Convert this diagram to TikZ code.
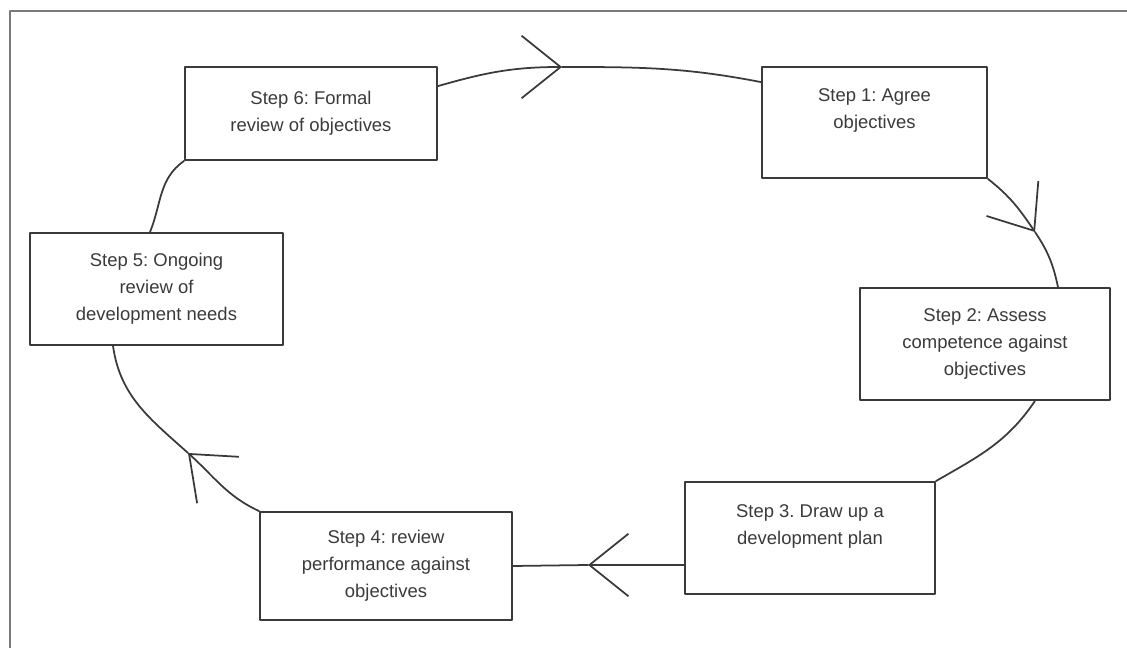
\documentclass[tikz,border=0pt]{standalone}
\usepackage{fontspec}
\setmainfont{Liberation Sans}
\usetikzlibrary{arrows.meta}
\definecolor{inkgray}{HTML}{3A3A3A}
\definecolor{framegray}{HTML}{7A7A7A}
\frenchspacing

\begin{document}
\begin{tikzpicture}[line cap=round,line join=round,>={Straight Barb[length=0.78cm,width=1.25cm]},scale=1,font=\fontsize{10.5}{15.4}\selectfont,
        stepbox/.style={draw=inkgray,line width=1pt,text=inkgray,align=center,inner sep=2pt},
        loopline/.style={draw=inkgray,line width=1pt}]
        \useasboundingbox (0,0) rectangle (22.54,12.96);
        \draw[framegray,line width=1pt] (0.2,0) -- (0.2,12.74) -- (22.54,12.74);

        \node[stepbox,minimum width=4.5cm,minimum height=2.22cm] (st1) at (17.49,10.51) {Step 1: Agree\\objectives\\\mbox{}};
        \node[stepbox,minimum width=5cm,minimum height=2.24cm] (st2) at (19.70,6.08) {Step 2: Assess\\competence against\\objectives};
        \node[stepbox,minimum width=5cm,minimum height=2.24cm] (st3) at (16.20,2.20) {Step 3. Draw up a\\development plan\\\mbox{}};
        \node[stepbox,minimum width=5.04cm,minimum height=2.16cm] (st4) at (7.72,1.64) {Step 4: review\\performance against\\objectives};
        \node[stepbox,minimum width=5.06cm,minimum height=2.24cm] (st5) at (3.13,7.18) {Step 5: Ongoing\\review of\\development needs};
        \node[stepbox,minimum width=5.04cm,minimum height=1.86cm] (st6) at (6.22,10.69) {Step 6: Formal\\review of objectives};

        \coordinate (arrTop) at (11.24,11.62);
        \coordinate (arrRight) at (20.70,8.32);
        \coordinate (arrBottom) at (11.76,1.66);
        \coordinate (arrLeft) at (3.76,3.90);

        \draw[loopline,->] ([yshift=-0.4cm]st6.north east) to[out=16,in=180] (arrTop);
        \draw[loopline] (arrTop) to[out=0,in=169] ([yshift=-0.32cm]st1.north west);
        \draw[loopline,->] (st1.south east) to[out=-38,in=124] (arrRight);
        \draw[loopline] (arrRight) to[out=-56,in=102] ([xshift=1.46cm]st2.north);
        \draw[loopline] ([xshift=1cm]st2.south) to[out=-124,in=30] (st3.north east);
        \draw[loopline,->] ([yshift=-0.54cm]st3.west) -- (arrBottom);
        \draw[loopline] (arrBottom) -- (st4.east);
        \draw[loopline,->] (st4.north west) to[out=155,in=-42] (arrLeft);
        \draw[loopline] (arrLeft) to[out=138,in=-82] ([xshift=-0.87cm]st5.south);
        \draw[loopline] ([xshift=-0.13cm]st5.north) to[out=68,in=215] (st6.south west);
\end{tikzpicture}
\end{document}
